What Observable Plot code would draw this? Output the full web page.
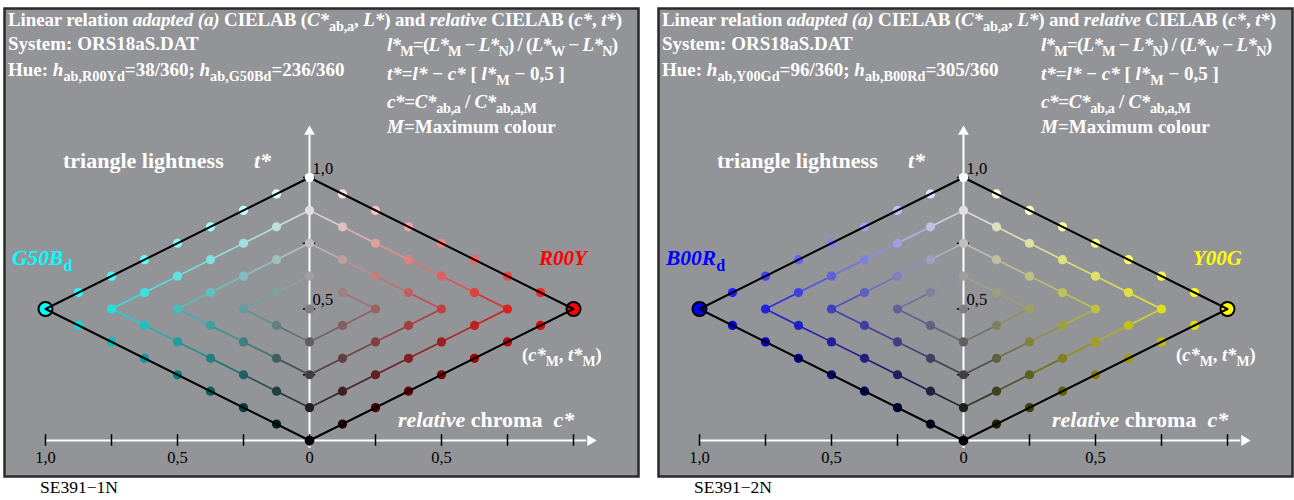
<!DOCTYPE html>
<html><head><meta charset="utf-8">
<script src="https://cdn.jsdelivr.net/npm/d3@7"></script>
<script src="https://cdn.jsdelivr.net/npm/@observablehq/plot@0.6"></script>
<style>
body{margin:0;background:#fff;}
#wrap{position:relative;width:1294px;height:500px;}
.panel{position:absolute;top:0;}
</style></head><body><div id="wrap"></div>
<script>
// ---------- data ----------
const chromaSteps = [0, 0.125, 0.25, 0.375, 0.5, 0.625, 0.75, 0.875, 1];   // relative chroma c*
const lightOffsets = [0, 0.125, 0.25, 0.375, 0.5, 0.625, 0.75, 0.875, 1];  // t* above the black-maximum edge
const chevronLevels = [1, 2, 3];            // inner coloured chevrons (outer one is black)
const panelOffsets = [0, 654];
const panelCodes = ["SE391\u22121N", "SE391\u22122N"];
const rightNames = ["R00Y", "Y00G"];
const leftNames = ["G50B", "B00R"];
const rightColors = ["#ff0000", "#ffff00"];
const leftColors = ["#00ffff", "#0000ff"];
const hueRightCodes = ["R00Yd", "Y00Gd"];
const hueRightValues = ["38/360", "96/360"];
const hueLeftCodes = ["G50Bd", "B00Rd"];
const hueLeftValues = ["236/360", "305/360"];
const xTickValues = [-1, -0.75, -0.5, -0.25, 0, 0.25, 0.5, 0.75, 1];
const xLabelValues = [-1, -0.5, 0, 0.5];
const xLabelTexts = ["1,0", "0,5", "0", "0,5"];
const yTickValues = [0, 0.25, 0.5, 0.75, 1];
const yLabelValues = [0.5, 1];
const yLabelTexts = ["0,5", "1,0"];
const outerPath = [[0, 0], [1, 0.5], [0, 1], [-1, 0.5], [0, 0]];

// ---------- helpers ----------
function mix(hex, c, t) {
  const m = d3.rgb(hex);
  const w = t - c / 2;
  const f = v => Math.max(0, Math.min(255, Math.round(c * v + w * 255)));
  return d3.rgb(f(m.r), f(m.g), f(m.b)).formatHex();
}
const FONT = "'Liberation Serif','Times New Roman',serif";
function rich(svg, x, y, markup, o = {}) {
  const size = o.size || 19;
  const subScale = o.sub || 0.75;
  const drop = size * 0.28;
  const t = d3.select(svg).append("text")
    .attr("x", x).attr("y", y)
    .attr("font-family", FONT).attr("font-size", size)
    .attr("font-weight", o.weight || "bold")
    .attr("font-style", o.style || "normal")
    .attr("fill", o.fill || "white")
    .attr("text-anchor", o.anchor || "start");
  if (o.len) t.attr("textLength", o.len).attr("lengthAdjust", "spacing");
  const re = /<(i|sub|n)>(.*?)<\/\1>/g;
  let last = 0, m, shifted = false;
  const add = (txt, kind) => {
    if (!txt) return;
    const ts = t.append("tspan").text(txt);
    if (kind === "sub") {
      ts.attr("font-size", size * subScale).attr("dy", drop);
      shifted = true;
    } else {
      if (shifted) { ts.attr("dy", -drop); shifted = false; }
      if (kind === "i") ts.attr("font-style", "italic");
      if (kind === "n") ts.attr("font-style", "normal");
    }
  };
  while ((m = re.exec(markup))) {
    add(markup.slice(last, m.index), null);
    add(m[2], m[1]);
    last = re.lastIndex;
  }
  add(markup.slice(last), null);
  return t;
}

const wrap = document.getElementById("wrap");

panelOffsets.forEach((off, p) => {
  const R = rightColors[p], L = leftColors[p];
  // grid points
  const points = [];
  [1, -1].forEach(s => {
    chromaSteps.forEach((c, i) => {
      if (s === -1 && i === 0) return;
      lightOffsets.forEach((o, j) => {
        if (j > 8 - i) return;
        const t = c / 2 + o;
        points.push({x: s * c, t, color: mix(s > 0 ? R : L, c, t)});
      });
    });
  });
  // chevron segments
  const segs = [];
  [1, -1].forEach(s => {
    const hex = s > 0 ? R : L;
    chevronLevels.forEach(k => {
      const n = 8 - 2 * k;
      const lower = d3.range(n + 1).map(i => [chromaSteps[i], chromaSteps[i] / 2 + lightOffsets[k]]);
      const upper = d3.range(n + 1).map(i => [chromaSteps[i], chromaSteps[i] / 2 + lightOffsets[8 - k - i]]);
      [lower, upper].forEach(edge => {
        for (let i = 0; i < edge.length - 1; i++) {
          const [c1, t1] = edge[i], [c2, t2] = edge[i + 1];
          segs.push({x1: s * c1, y1: t1, x2: s * c2, y2: t2, color: mix(hex, (c1 + c2) / 2, (t1 + t2) / 2)});
        }
      });
    });
  });
  const vertices = [{x: 1, t: 0.5, color: R}, {x: -1, t: 0.5, color: L}];

  const svg = Plot.plot({
    width: 640, height: 500,
    marginTop: 8, marginLeft: 4, marginRight: 2, marginBottom: 24,
    x: {domain: [-1, 1], range: [45, 573], axis: null},
    y: {domain: [0, 1], range: [440, 177], axis: null},
    color: {type: "identity"},
    style: {background: "transparent", overflow: "visible"},
    marks: [
      Plot.frame({fill: "#939498", stroke: "#2a2a2a", strokeWidth: 2.5}),
      Plot.ruleY(yTickValues, {y: d => d, x1: -0.023, x2: 0.023, stroke: "black", strokeWidth: 1.5}),
      Plot.ruleX([0], {x: 0, y1: -0.03, y2: 1.16, stroke: "white", strokeWidth: 2}),
      Plot.dot([0], {x: 0, y: 1.174, symbol: "triangle", r: 4, fill: "white"}),
      Plot.ruleY([0], {y: 0, x1: -1, x2: 1.05, stroke: "white", strokeWidth: 2}),
      Plot.dot([0], {x: 1.064, y: 0, symbol: "triangle", r: 4, fill: "white", rotate: 90}),
      Plot.ruleX(xTickValues, {x: d => d, y1: -0.022, y2: 0.022, stroke: "black", strokeWidth: 1.5}),
      Plot.text(xLabelValues, {x: d => d, y: 0, text: (d, i) => xLabelTexts[i], dy: 22, lineAnchor: "bottom",
        fontFamily: FONT, fontSize: 16.5, fill: "black"}),
      Plot.text(yLabelValues, {x: 0, y: d => d, text: (d, i) => yLabelTexts[i], dx: 3, dy: -4, textAnchor: "start",
        lineAnchor: "bottom", fontFamily: FONT, fontSize: 16.5, fill: "black"}),
      Plot.link(segs, {x1: "x1", y1: "y1", x2: "x2", y2: "y2", stroke: "color", strokeWidth: 1.6}),
      Plot.dot(points, {x: "x", y: "t", r: 4.6, fill: "color"}),
      Plot.dot(vertices, {x: "x", y: "t", r: 7, fill: "color", stroke: "black", strokeWidth: 2}),
      Plot.line(outerPath, {x: d => d[0], y: d => d[1], stroke: "black", strokeWidth: 2}),
      Plot.dot([[0, 1]], {x: d => d[0], y: d => d[1], r: 4.6, fill: "white"}),
      Plot.dot([[0, 0]], {x: d => d[0], y: d => d[1], r: 4.8, fill: "black"})
    ]
  });
  svg.classList.add("panel");
  svg.style.left = off + "px";
  wrap.appendChild(svg);

  rich(svg, 8, 26, "Linear relation <i>adapted (a)</i> CIELAB (<i>C*</i><sub>ab,a</sub>, <i>L*</i>) and <i>relative</i> CIELAB (<i>c*</i>, <i>t*</i>)", {len: 614});
  rich(svg, 8, 50, "System: ORS18aS.DAT");
  rich(svg, 8, 76, "Hue: <i>h</i><sub>ab," + hueRightCodes[p] + "</sub>=" + hueRightValues[p] + "; <i>h</i><sub>ab," + hueLeftCodes[p] + "</sub>=" + hueLeftValues[p]);
  rich(svg, 387, 51, "<i>l*</i><sub>M</sub>=(<i>L*</i><sub>M</sub> \u2212 <i>L*</i><sub>N</sub>) / (<i>L*</i><sub>W</sub> \u2212 <i>L*</i><sub>N</sub>)", {len: 231});
  rich(svg, 387, 80, "<i>t*</i>=<i>l*</i> \u2212 <i>c*</i> [ <i>l*</i><sub>M</sub> \u2212 0,5 ]");
  rich(svg, 387, 108, "<i>c*</i>=<i>C*</i><sub>ab,a</sub> / <i>C*</i><sub>ab,a,M</sub>", {len: 150});
  rich(svg, 387, 133, "<i>M</i>=Maximum colour");
  rich(svg, 63, 168, "triangle lightness", {size: 22});
  rich(svg, 254, 168, "<i>t*</i>", {size: 22});
  rich(svg, 12, 265, "<i>" + leftNames[p] + "</i><sub>d</sub>", {size: 21.5, fill: L});
  rich(svg, 539, 265, "<i>" + rightNames[p] + "</i>", {size: 21, fill: R});
  rich(svg, 522, 361, "(<i>c*</i><sub>M</sub>, <i>t*</i><sub>M</sub>)", {size: 18.5});
  rich(svg, 398, 427, "<i>relative</i> chroma \u00a0<i>c*</i>", {size: 22});
  rich(svg, 40, 493, panelCodes[p], {size: 17.5, weight: "normal", fill: "black"});
});
</script></body></html>
